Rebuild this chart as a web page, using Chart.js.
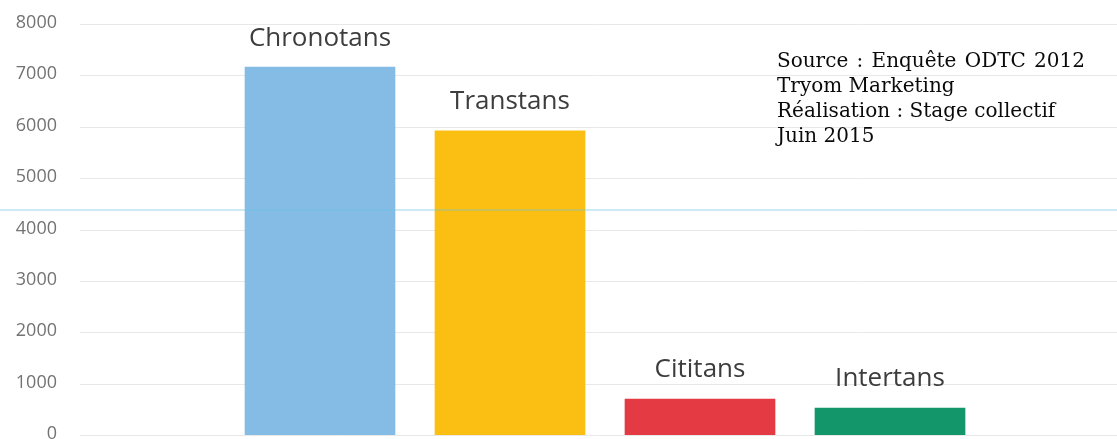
<!DOCTYPE html>
<html>
  <head>
    <script src="https://cdn.jsdelivr.net/npm/chart.js@4.4.0/dist/chart.umd.min.js"></script>
    <style>
      html, body { margin: 0; padding: 0; background: #fff; overflow: hidden; }
    </style>
  </head>
  <body>
    <canvas id="myChart" width="1117" height="439"></canvas>

    <script>
      // Data
      var categories = ["Chronotans", "Transtans", "Cititans", "Intertans"];
      var counts = [7160, 5920, 700, 525];
      var barColors = ["#84bce5", "#fbbf14", "#e33a44", "#12966a"];
      var yTicks = [0, 1000, 2000, 3000, 4000, 5000, 6000, 7000, 8000];
      var sourceLines = [
        "Source : Enquête ODTC 2012",
        "Tryom Marketing",
        "Réalisation : Stage collectif",
        "Juin 2015",
      ];

      // Horizontal grid lines and y labels, running wider than the bar area
      var gridPlugin = {
        id: "wideGrid",
        beforeDatasetsDraw: function (chart) {
          var ctx = chart.ctx;
          var y = chart.scales.y;
          ctx.save();
          ctx.strokeStyle = "#e8e8e8";
          ctx.lineWidth = 1;
          ctx.font = "18px 'Open Sans'";
          ctx.fillStyle = "#737373";
          ctx.textAlign = "right";
          ctx.textBaseline = "middle";
          yTicks.forEach(function (v) {
            var py = Math.round(y.getPixelForValue(v)) + 0.5;
            ctx.beginPath();
            ctx.moveTo(80, py);
            ctx.lineTo(chart.width, py);
            ctx.stroke();
            ctx.fillText(String(v), 57, py - 2);
          });
          ctx.restore();
        },
      };

      // Category names above each bar
      var barLabelPlugin = {
        id: "barLabels",
        afterDatasetsDraw: function (chart) {
          var ctx = chart.ctx;
          var meta = chart.getDatasetMeta(0);
          ctx.save();
          ctx.font = "26px 'Open Sans'";
          ctx.fillStyle = "#3d3d3d";
          ctx.textAlign = "center";
          ctx.textBaseline = "middle";
          meta.data.forEach(function (bar, i) {
            ctx.fillText(categories[i], bar.x, bar.y - 29);
          });
          ctx.restore();
        },
      };

      // Source note top right, plus the faint blue scan line
      var notePlugin = {
        id: "note",
        afterDraw: function (chart) {
          var ctx = chart.ctx;
          ctx.save();
          ctx.font = "20px 'DejaVu Serif'";
          ctx.fillStyle = "#0a0a0a";
          ctx.textBaseline = "alphabetic";
          var x0 = 777;
          var base = 67;
          sourceLines.forEach(function (line, i) {
            var by = base + i * 25;
            if (i === 0) {
              // first line is justified across a wider box
              var words = line.split(" ");
              var total = 0;
              words.forEach(function (w) { total += ctx.measureText(w).width; });
              var gap = (308 - total) / (words.length - 1);
              var x = x0;
              words.forEach(function (w) {
                ctx.fillText(w, x, by);
                x += ctx.measureText(w).width + gap;
              });
            } else {
              ctx.fillText(line, x0, by);
            }
          });

          ctx.strokeStyle = "rgba(110, 195, 220, 0.45)";
          ctx.lineWidth = 1.5;
          var ly = Math.round(chart.height * 0.479);
          ctx.beginPath();
          ctx.moveTo(0, ly);
          ctx.lineTo(chart.width, ly);
          ctx.stroke();
          ctx.restore();
        },
      };

      var ctx = document.getElementById("myChart").getContext("2d");
      var myChart = new Chart(ctx, {
        type: "bar",
        data: {
          labels: categories,
          datasets: [
            {
              data: counts,
              backgroundColor: barColors,
              borderWidth: 0,
              barThickness: 150,
            },
          ],
        },
        options: {
          responsive: false,
          animation: false,
          layout: {
            padding: { left: 0, right: 132, top: 24, bottom: 4 },
          },
          plugins: {
            legend: { display: false },
            tooltip: { enabled: false },
          },
          scales: {
            x: {
              display: false,
              grid: { display: false },
            },
            y: {
              min: 0,
              max: 8000,
              afterFit: function (scale) {
                scale.width = 225;
                scale.paddingTop = 0;
                scale.paddingBottom = 0;
              },
              border: { display: false },
              grid: { display: false, drawTicks: false },
              ticks: { display: false, stepSize: 1000 },
            },
          },
        },
        plugins: [gridPlugin, barLabelPlugin, notePlugin],
      });
    </script>
  </body>
</html>
